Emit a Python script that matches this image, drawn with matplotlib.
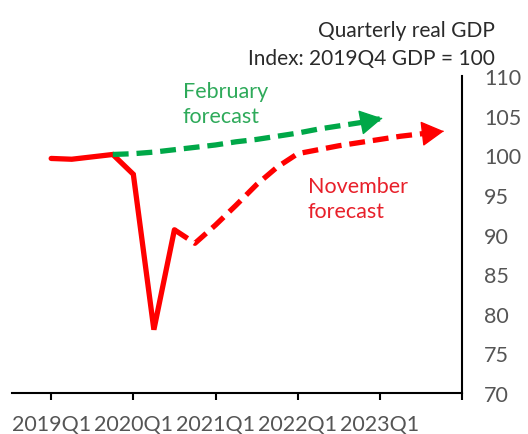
import numpy as np
import matplotlib.pyplot as plt

# ---------------- data ----------------
tick_labels = ["2019Q1", "2020Q1", "2021Q1", "2022Q1", "2023Q1", ""]
tick_pos = [0, 4, 8, 12, 16, 20]

# actual GDP, 2019Q1 .. 2020Q3
actual_q = [0, 1, 2, 3, 4, 5, 6]
actual = [99.6, 99.5, 99.8, 100.1, 97.6, 78.0, 90.6]

# February forecast, 2019Q4 .. 2023Q1
feb_q = [3, 4, 5, 6, 7, 8, 9, 10, 11, 12, 13, 14, 15, 16]
feb = [100.1, 100.2, 100.4, 100.7, 101.0, 101.3, 101.7, 102.0, 102.4, 102.8,
       103.3, 103.7, 104.1, 104.6]

# November forecast, 2020Q3 .. 2023Q4
nov_q = [6, 7, 8, 9, 10, 11, 12, 13, 14, 15, 16, 17, 18, 19]
nov = [90.6, 88.9, 91.2, 93.7, 96.3, 98.5, 100.2, 100.7, 101.2, 101.6,
       102.0, 102.4, 102.7, 103.0]

red = "#FF0000"
green = "#00A848"

plt.rcParams['font.family'] = ['Lato', 'DejaVu Sans']

fig = plt.figure(figsize=(5.28, 4.35), dpi=100)
ax = fig.add_axes([0.023, 0.094, 0.852, 0.729])

ax.plot(actual_q, actual, color=red, lw=3.8, solid_capstyle="round", solid_joinstyle="miter")
ax.plot(feb_q, feb, color=green, lw=3.8, dashes=(3.0, 1.5))
ax.plot(nov_q, nov, color=red, lw=3.8, dashes=(3.0, 1.5))

# arrow heads at the end of each forecast
for xs, ys, c in [(feb_q, feb, green), (nov_q, nov, red)]:
    x1, y1 = xs[-1], ys[-1]
    x0, y0 = xs[-2], ys[-2]
    ax.annotate("", xy=(x1 + 0.25 * (x1 - x0), y1 + 0.25 * (y1 - y0)),
                xytext=(x1 - 0.05 * (x1 - x0), y1 - 0.05 * (y1 - y0)),
                arrowprops=dict(arrowstyle="-|>,head_length=0.8,head_width=0.45",
                                color=c, lw=1, mutation_scale=18))

ax.set_xlim(-1.9, 20)
ax.set_ylim(70, 110)

ax.spines["left"].set_visible(False)
ax.spines["top"].set_visible(False)
ax.spines["bottom"].set_linewidth(1.5)
ax.spines["right"].set_linewidth(1.5)

ax.set_xticks(tick_pos)
ax.set_xticklabels(tick_labels, fontsize=15.5, color="#555555")
ax.tick_params(axis="x", direction="out", length=5, width=1.5, pad=10)

ax.yaxis.tick_right()
ax.set_yticks(np.arange(70, 111, 5))
ax.tick_params(axis="y", length=0, pad=16, labelsize=15.5, labelcolor="#555555")

fig.text(0.938, 0.915, "Quarterly real GDP", ha="right", va="baseline", fontsize=15, color="#2a2a2a")
fig.text(0.938, 0.851, "Index: 2019Q4 GDP = 100", ha="right", va="baseline", fontsize=15, color="#2a2a2a")

ax.text(6.4, 109.4, "February\nforecast", color="#2EAA5A", fontsize=15.5, va="top",
        linespacing=1.3)
ax.text(12.5, 97.4, "November\nforecast", color="#E8202A", fontsize=15.5, va="top",
        linespacing=1.3)

plt.savefig("out.png", dpi=100)
